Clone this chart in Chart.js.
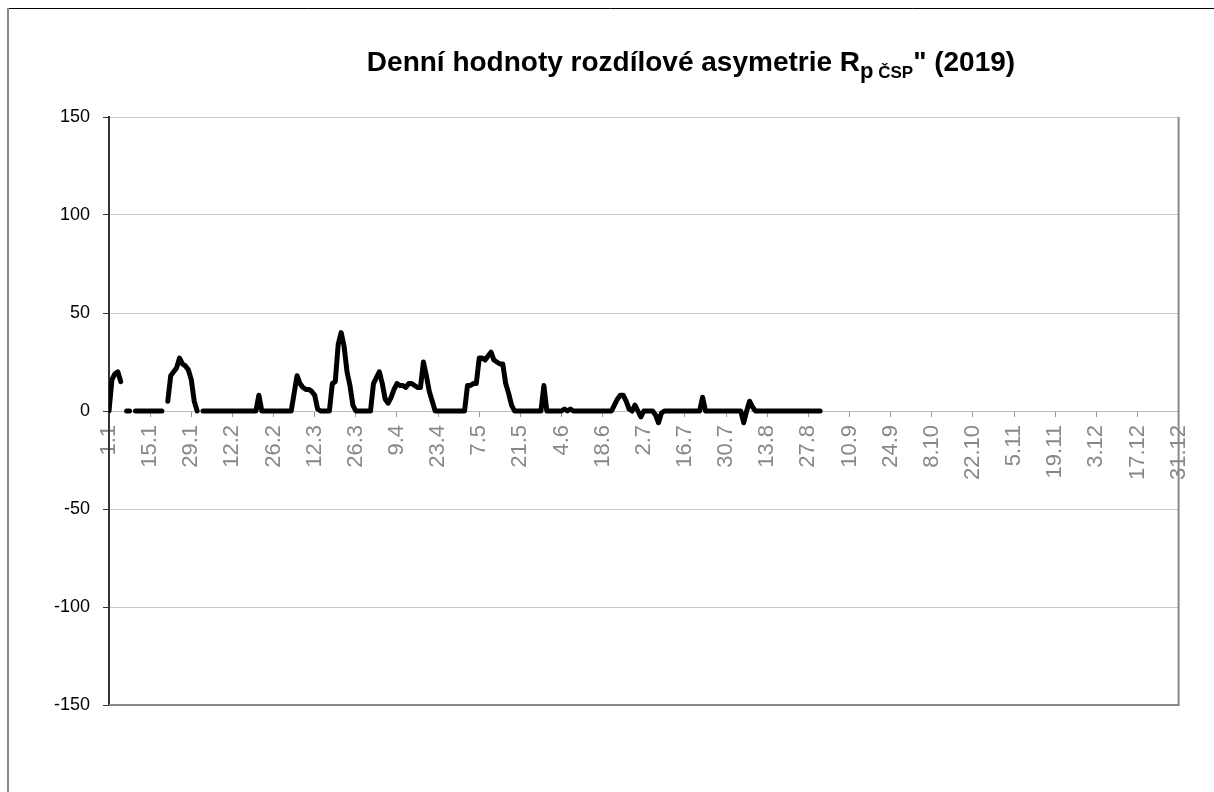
<!DOCTYPE html>
<html>
<head>
<meta charset="utf-8">
<script src="https://cdn.jsdelivr.net/npm/chart.js@4.4.0/dist/chart.umd.min.js"></script>
<style>
	html, body { margin: 0; padding: 0; background: #fff; }
	#wrap { width: 1214px; height: 792px; }
</style>
</head>
<body>
<div id="wrap"><canvas id="ts-chart" width="1214" height="792"></canvas></div>
<script>
// tick labels on the day axis (every 14th day)
const tickLabels = ['1.1', '15.1', '29.1', '12.2', '26.2', '12.3', '26.3', '9.4', '23.4', '7.5',
	'21.5', '4.6', '18.6', '2.7', '16.7', '30.7', '13.8', '27.8', '10.9', '24.9',
	'8.10', '22.10', '5.11', '19.11', '3.12', '17.12', '31.12'];

const yTicks = [-150, -100, -50, 0, 50, 100, 150];

// daily values, index 0 = 1.1.2019 (null = missing day)
const values = [
	0, 16, 19, 20, 15, null, 0, 0, null, 0, 0, 0, 0, 0,
	0, 0, 0, 0, 0, null, 5, 18, 20, 22, 27, 24, 23, 21,
	16, 5, 0, null, 0, 0, 0, 0, 0, 0, 0, 0, 0, 0,
	0, 0, 0, 0, 0, 0, 0, 0, 0, 8, 0, 0, 0, 0,
	0, 0, 0, 0, 0, 0, 0, 9, 18, 14, 12, 11, 11, 10,
	8, 1, 0, 0, 0, 0, 14, 15, 34, 40, 33, 20, 13, 3,
	0, 0, 0, 0, 0, 0, 14, 17, 20, 14, 6, 4, 7, 11,
	14, 13, 13, 12, 14, 14, 13, 12, 12, 25, 18, 10, 5, 0,
	0, 0, 0, 0, 0, 0, 0, 0, 0, 0, 13, 13, 14, 14,
	27, 27, 26, 28, 30, 26, 25, 24, 24, 14, 9, 3, 0, 0,
	0, 0, 0, 0, 0, 0, 0, 0, 13, 0, 0, 0, 0, 0,
	0, 1, 0, 1, 0, 0, 0, 0, 0, 0, 0, 0, 0, 0,
	0, 0, 0, 0, 3, 6, 8, 8, 5, 1, 0, 3, 0, -3,
	0, 0, 0, 0, -2, -6, -1, 0, 0, 0, 0, 0, 0, 0,
	0, 0, 0, 0, 0, 0, 7, 0, 0, 0, 0, 0, 0, 0,
	0, 0, 0, 0, 0, 0, -6, 0, 5, 2, 0, 0, 0, 0,
	0, 0, 0, 0, 0, 0, 0, 0, 0, 0, 0, 0, 0, 0,
	0, 0, 0, 0, 0
];

const FONT = '"Liberation Sans", Arial, sans-serif';

/**
 * Outer frame, plot border and the title with subscript
 */
const decorPlugin = {
	id: 'decor',
	beforeDraw(chart) {
		const ctx = chart.ctx;
		ctx.save();
		ctx.fillStyle = '#fff';
		ctx.fillRect(0, 0, chart.width, chart.height);
		// outer frame (only top and left visible)
		ctx.strokeStyle = '#000';
		ctx.lineWidth = 1;
		ctx.beginPath();
		ctx.moveTo(7, 8.5);
		ctx.lineTo(chart.width, 8.5);
		ctx.stroke();
		ctx.strokeStyle = '#888';
		ctx.lineWidth = 2;
		ctx.beginPath();
		ctx.moveTo(8, 8);
		ctx.lineTo(8, chart.height);
		ctx.stroke();
		ctx.restore();
	},
	beforeDatasetsDraw(chart) {
		const ctx = chart.ctx;
		const a = chart.chartArea;
		ctx.save();
		ctx.strokeStyle = '#888';
		ctx.lineWidth = 2;
		ctx.beginPath();
		ctx.moveTo(a.left, a.bottom);
		ctx.lineTo(a.right, a.bottom);
		ctx.lineTo(a.right, a.top);
		ctx.stroke();
		ctx.restore();
	},
	afterDraw(chart) {
		const ctx = chart.ctx;
		ctx.save();
		ctx.fillStyle = '#000';
		ctx.textBaseline = 'alphabetic';
		const parts = [
			{ t: 'Denní hodnoty rozdílové asymetrie R', size: 28, dy: 0 },
			{ t: 'p', size: 22, dy: 7 },
			{ t: ' ČSP', size: 17, dy: 7 },
			{ t: '" (2019)', size: 28, dy: 0 }
		];
		let total = 0;
		parts.forEach(p => {
			ctx.font = 'bold ' + p.size + 'px ' + FONT;
			p.w = ctx.measureText(p.t).width;
			total += p.w;
		});
		let x = 691 - total / 2;
		const base = 71;
		parts.forEach(p => {
			ctx.font = 'bold ' + p.size + 'px ' + FONT;
			ctx.fillText(p.t, x, base + p.dy);
			x += p.w;
		});
		ctx.restore();
	}
};

function initChart() {
	const ctx = document.getElementById('ts-chart').getContext('2d');

	const points = values.map((v, i) => ({ x: i, y: v }));

	chart = new Chart(ctx, {
		type: 'line',
		data: {
			datasets: [{
				data: points,
				borderColor: '#000',
				borderWidth: 5,
				borderCapStyle: 'round',
				borderJoinStyle: 'round',
				pointRadius: 0,
				tension: 0,
				spanGaps: false
			}]
		},
		options: {
			responsive: false,
			animation: false,
			devicePixelRatio: 1,
			layout: {
				padding: { left: 0, top: 117, right: 35, bottom: 87 }
			},
			plugins: {
				legend: { display: false },
				title: { display: false },
				tooltip: { enabled: false }
			},
			scales: {
				x: {
					type: 'linear',
					position: { y: 0 },
					min: 0,
					max: 364,
					grid: {
						drawOnChartArea: false,
						drawTicks: true,
						tickLength: 5,
						tickColor: '#999'
					},
					border: { display: true, color: '#bbb', width: 1 },
					ticks: {
						stepSize: 14,
						autoSkip: false,
						maxTicksLimit: 40,
						minRotation: 90,
						maxRotation: 90,
						padding: 9,
						color: '#888',
						font: { family: FONT, size: 22 },
						callback: (v) => tickLabels[Math.round(v / 14)]
					}
				},
				y: {
					min: -150,
					max: 150,
					afterFit: (s) => { s.width = 109; },
					afterBuildTicks: (s) => { s.ticks = yTicks.map(v => ({ value: v })); },
					grid: {
						color: '#c8c8c8',
						lineWidth: 1,
						tickLength: 6,
						tickColor: '#333'
					},
					border: { display: true, color: '#333', width: 2 },
					ticks: {
						padding: 13,
						color: '#000',
						font: { family: FONT, size: 18 }
					}
				}
			}
		},
		plugins: [decorPlugin]
	});
}

let chart = null;
initChart();
</script>
</body>
</html>
